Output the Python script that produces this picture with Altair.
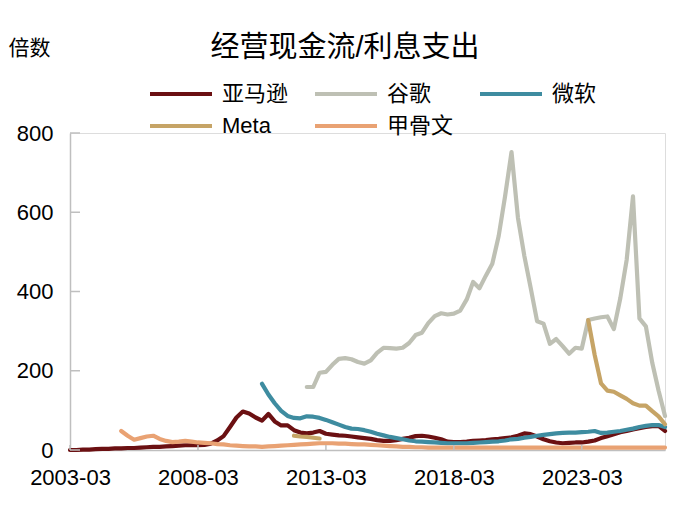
import altair as alt
import pandas as pd

# ---- data (quarterly, quarter index 0 = 2003-03) ----
companies_1 = ["亚马逊", "谷歌", "微软"]
colors_1 = ["#6B1012", "#BEC0B4", "#3E8CA0"]
companies_2 = ["Meta", "甲骨文"]
colors_2 = ["#C6A466", "#E9A273"]

amazon_start = 0
amazon = [0, 0, 1, 1, 2, 3, 3, 4, 4, 5, 5, 6, 7, 8, 8, 9, 10, 11, 12, 12,
          12, 13, 16, 24, 35, 58, 82, 97, 92, 82, 74, 91, 72, 62, 62, 50,
          44, 42, 44, 48, 41, 39, 37, 36, 34, 32, 30, 28, 25, 23, 23, 25,
          28, 31, 35, 36, 34, 31, 27, 21, 20, 20, 21, 23, 24, 25, 27, 28,
          30, 32, 36, 42, 40, 34, 27, 22, 19, 17, 18, 19, 19, 21, 24, 30,
          35, 40, 45, 48, 52, 55, 58, 60, 61, 48]

google_start = 37
google = [159, 159, 195, 197, 215, 230, 232, 229, 222, 218, 226, 245, 258,
          257, 256, 258, 270, 290, 296, 320, 338, 345, 342, 344, 352, 380,
          424, 408, 440, 470, 540, 640, 752, 586, 490, 410, 325, 319, 268,
          280, 262, 243, 258, 256, 328, 332, 335, 337, 305, 383, 480, 640,
          332, 312, 220, 150, 86]

microsoft_start = 30
microsoft = [167, 140, 118, 99, 86, 81, 80, 85, 84, 81, 76, 70, 64, 58, 54,
             53, 50, 46, 41, 37, 33, 30, 27, 24, 22, 21, 20, 19, 18, 17, 17,
             17, 17, 18, 19, 20, 21, 22, 24, 27, 28, 31, 33, 36, 38, 40, 42,
             43, 44, 44, 45, 46, 48, 43, 44, 46, 48, 51, 54, 58, 61, 63, 63,
             58]

meta_a_start = 35
meta_a = [36, 34, 33, 31, 29]
meta_b_start = 81
meta_b = [328, 240, 168, 150, 147, 138, 129, 118, 112, 112, 98, 85, 65]

oracle_start = 8
oracle = [48, 36, 26, 30, 34, 36, 28, 23, 20, 21, 23, 21, 19, 18, 17, 15,
          14, 12, 11, 10, 9, 9, 8, 9, 10, 11, 12, 13, 14, 15, 16, 17, 17,
          17, 16, 16, 15, 14, 14, 13, 12, 11, 10, 9, 8, 8, 7, 7, 6, 6, 6,
          6, 6, 6, 6, 6, 6, 6, 6, 6, 6, 6, 6, 6, 6, 6, 6, 6, 6, 6, 6, 6, 6,
          6, 6, 6, 6, 6, 6, 6, 6, 6, 6, 6, 6, 6]

x_ticks = ["2003-03", "2008-03", "2013-03", "2018-03", "2023-03"]
y_ticks = [0, 200, 400, 600, 800]


def qdate(q):
    m = 2003 * 12 + 2 + 3 * q
    return f"{m // 12}-{m % 12 + 1:02d}-01"


def build(series):
    rows = []
    for name, seg, start, vals in series:
        for i, v in enumerate(vals):
            rows.append({"date": qdate(start + i), "company": name,
                         "seg": seg, "value": v})
    return pd.DataFrame(rows)


df1 = build([
    ("亚马逊", "a", amazon_start, amazon),
    ("谷歌", "g", google_start, google),
    ("微软", "m", microsoft_start, microsoft),
])
df2 = build([
    ("Meta", "f1", meta_a_start, meta_a),
    ("Meta", "f2", meta_b_start, meta_b),
    ("甲骨文", "o", oracle_start, oracle),
])

FONT = "Liberation Sans, Arial, Noto Sans CJK SC, sans-serif"
W, H = 595, 317
x_end = qdate(93)

xscale = alt.Scale(domain=[qdate(0), x_end], nice=False)
yscale = alt.Scale(domain=[0, 800], nice=False)

tick_dates = [alt.DateTime(year=int(t[:4]), month=int(t[5:]), date=1)
              for t in x_ticks]

x_enc = alt.X("date:T", scale=xscale, title=None,
              axis=alt.Axis(values=tick_dates, format="%Y-%m", grid=False,
                            ticks=False, tickSize=0, labelPadding=17,
                            labelFontSize=22, labelFont=FONT,
                            labelColor="#000", labelFlush=False,
                            domainColor="#BFBFBF", domainWidth=1.5,
                            labelOverlap=False))
y_enc = alt.Y("value:Q", scale=yscale,
              axis=alt.Axis(values=y_ticks, grid=False, ticks=False,
                            tickSize=0, labelPadding=17, labelFontSize=22,
                            labelFont=FONT, labelColor="#000",
                            domainColor="#BFBFBF", domainWidth=1.5,
                            title="倍数", titleAngle=0, titleAlign="left",
                            titleBaseline="middle", titleX=-62, titleY=-85,
                            titleFontSize=21, titleFont=FONT,
                            titleFontWeight="normal", titleColor="#000"))


def legend(y):
    return alt.Legend(title=None, orient="none", legendX=78, legendY=y,
                      columns=3, direction="horizontal",
                      symbolType="stroke", symbolSize=3844,
                      symbolStrokeWidth=4, labelFontSize=22, labelFont=FONT,
                      labelColor="#000", labelOffset=8, columnPadding=18,
                      gridAlign="all", labelLimit=300)


line_style = dict(strokeWidth=4.2, strokeJoin="round", strokeCap="round")

lines1 = alt.Chart(df1).mark_line(**line_style).encode(
    x=x_enc, y=y_enc,
    color=alt.Color("company:N",
                    scale=alt.Scale(domain=companies_1, range=colors_1),
                    legend=legend(-72)),
    detail="seg:N",
)
lines2 = alt.Chart(df2).mark_line(**line_style).encode(
    x=alt.X("date:T", scale=xscale),
    y=alt.Y("value:Q", scale=yscale),
    color=alt.Color("company:N",
                    scale=alt.Scale(domain=companies_2, range=colors_2),
                    legend=legend(-40)),
    detail="seg:N",
)

ytick_df = pd.DataFrame({"v": y_ticks})
yticks = alt.Chart(ytick_df).mark_rule(color="#BFBFBF", strokeWidth=1.5).encode(
    y=alt.Y("v:Q", scale=yscale),
    x=alt.value(0), x2=alt.value(10),
)

xtick_df = pd.DataFrame({"d": [t + "-01" for t in x_ticks]})
xticks = alt.Chart(xtick_df).mark_rule(color="#BFBFBF", strokeWidth=1.5).encode(
    x=alt.X("d:T", scale=xscale),
    y=alt.value(H), y2=alt.value(H - 5),
)

title_df = pd.DataFrame({"t": ["经营现金流/利息支出"]})
title = alt.Chart(title_df).mark_text(fontSize=29, font=FONT, color="#000",
                                      align="center", baseline="middle").encode(
    text="t:N", x=alt.value(275), y=alt.value(-85),
)

chart = alt.layer(lines1, lines2, yticks, xticks, title).resolve_scale(
    color="independent"
).properties(
    width=W, height=H,
    autosize=alt.AutoSizeParams(type="none"),
    padding={"left": 62, "top": 125, "right": 5, "bottom": 45},
).configure_view(stroke=None).configure(background="white")

chart.save("out.html", embed_options={"renderer": "svg", "actions": False})
